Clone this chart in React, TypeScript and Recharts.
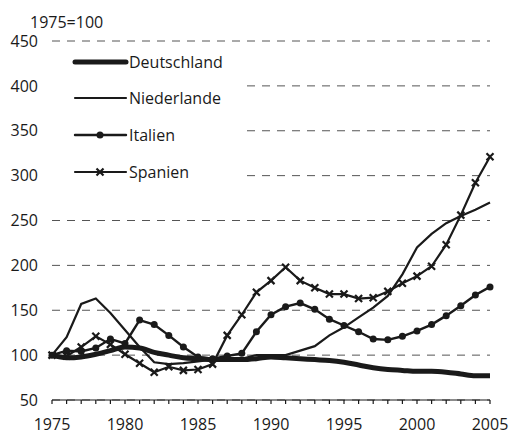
import {
  LineChart,
  Line,
  XAxis,
  YAxis,
  CartesianGrid,
  Legend,
} from "recharts";

const years = [
  1975, 1976, 1977, 1978, 1979, 1980, 1981, 1982, 1983, 1984, 1985, 1986, 1987,
  1988, 1989, 1990, 1991, 1992, 1993, 1994, 1995, 1996, 1997, 1998, 1999, 2000,
  2001, 2002, 2003, 2004, 2005,
];
const deutschland = [
  100, 97, 98, 101, 105, 109, 108, 103, 100, 97, 96, 95, 95, 95, 96, 98, 97, 96,
  95, 94, 92, 89, 86, 84, 83, 82, 82, 81, 79, 77, 77,
];
const niederlande = [
  100, 120, 157, 163, 147, 128, 109, 92, 90, 91, 93, 95, 95, 96, 100, 100, 100,
  105, 110, 122, 131, 142, 153, 166, 190, 220, 235, 247, 255, 262, 270,
];
const italien = [
  100, 105, 104, 108, 118, 113, 139, 134, 122, 109, 98, 96, 99, 102, 126, 145,
  154, 158, 151, 140, 133, 126, 118, 117, 121, 127, 134, 144, 155, 167, 176,
];
const spanien = [
  100, 99, 109, 121, 112, 101, 91, 81, 87, 83, 84, 90, 122, 145, 170, 183, 198,
  183, 175, 168, 168, 163, 164, 171, 180, 188, 199, 223, 256, 292, 321,
];
const yTicks = [50, 100, 150, 200, 250, 300, 350, 400, 450];

const data = years.map((year, i) => ({
  year,
  de: deutschland[i],
  nl: niederlande[i],
  it: italien[i],
  es: spanien[i],
}));

const FONT = "'Open Sans', sans-serif";
const INK = "#1a1a1a";

function Cross(props: any) {
  const { cx, cy, index } = props;
  if (cx == null || cy == null) return <g key={index} />;
  const s = 3.5;
  return (
    <path
      key={index}
      d={`M${cx - s},${cy - s}L${cx + s},${cy + s}M${cx - s},${cy + s}L${cx + s},${cy - s}`}
      stroke={INK}
      strokeWidth={2.2}
    />
  );
}

function LegendBox() {
  const rows = [
    { name: "Deutschland", y: 12, w: 5, mark: null },
    { name: "Niederlande", y: 48, w: 2.2, mark: null },
    { name: "Italien", y: 85, w: 2.4, mark: "dot" },
    { name: "Spanien", y: 122, w: 2.2, mark: "x" },
  ];
  return (
    <svg width={190} height={160} style={{ display: "block" }}>
      {rows.map((r) => (
        <g key={r.name}>
          <line
            x1={23}
            x2={74}
            y1={r.y}
            y2={r.y}
            stroke={INK}
            strokeWidth={r.w}
            strokeLinecap="round"
          />
          {r.mark === "dot" && <circle cx={48} cy={r.y} r={3.5} fill={INK} />}
          {r.mark === "x" && (
            <path
              d={`M44.5,${r.y - 3.5}L51.5,${r.y + 3.5}M44.5,${r.y + 3.5}L51.5,${r.y - 3.5}`}
              stroke={INK}
              strokeWidth={2.2}
            />
          )}
          <text
            x={77}
            y={r.y}
            dominantBaseline="central"
            fontFamily={FONT}
            fontSize={16}
            fill={INK}
          >
            {r.name}
          </text>
        </g>
      ))}
    </svg>
  );
}

export default function App() {
  return (
    <div
      style={{
        position: "absolute",
        left: 0,
        top: 0,
        width: 512,
        height: 440,
        background: "#fff",
      }}
    >
      <div
        style={{
          position: "absolute",
          left: 30,
          top: 10,
          fontFamily: FONT,
          fontSize: 16,
          color: INK,
          lineHeight: "24px",
          zIndex: 2,
        }}
      >
        1975=100
      </div>
      <LineChart
        width={512}
        height={440}
        data={data}
        margin={{ top: 41, right: 22, left: 0, bottom: 0 }}
      >
        <CartesianGrid
          vertical={false}
          stroke="#555"
          strokeDasharray="8 7"
        />
        <XAxis
          dataKey="year"
          type="number"
          domain={[1975, 2005]}
          ticks={years}
          interval={0}
          tickFormatter={(v) => (v % 5 === 0 ? String(v) : "")}
          height={40}
          tickSize={4}
          tickMargin={15}
          axisLine={{ stroke: INK, strokeWidth: 1.2 }}
          tickLine={{ stroke: INK, strokeWidth: 1.2 }}
          tick={{ fill: INK, fontSize: 16, fontFamily: FONT }}
        />
        <YAxis
          domain={[50, 450]}
          ticks={yTicks}
          width={52}
          axisLine={false}
          tickLine={false}
          tickSize={0}
          tickMargin={14}
          tick={{ fill: INK, fontSize: 16, fontFamily: FONT }}
        />
        <Legend
          layout="horizontal"
          verticalAlign="middle"
          align="center"
          content={() => <LegendBox />}
          wrapperStyle={{
            left: 52,
            top: 50,
            width: 190,
            height: 160,
            background: "#fff",
          }}
        />
        <Line
          dataKey="de"
          name="Deutschland"
          type="monotone"
          stroke={INK}
          strokeWidth={5}
          dot={false}
          isAnimationActive={false}
        />
        <Line
          dataKey="nl"
          name="Niederlande"
          type="linear"
          stroke={INK}
          strokeWidth={2.2}
          dot={false}
          isAnimationActive={false}
        />
        <Line
          dataKey="it"
          name="Italien"
          type="linear"
          stroke={INK}
          strokeWidth={2.4}
          dot={{ r: 3.5, fill: INK, stroke: "none" }}
          isAnimationActive={false}
        />
        <Line
          dataKey="es"
          name="Spanien"
          type="linear"
          stroke={INK}
          strokeWidth={2.2}
          dot={(p: any) => <Cross {...p} />}
          isAnimationActive={false}
        />
      </LineChart>
    </div>
  );
}
